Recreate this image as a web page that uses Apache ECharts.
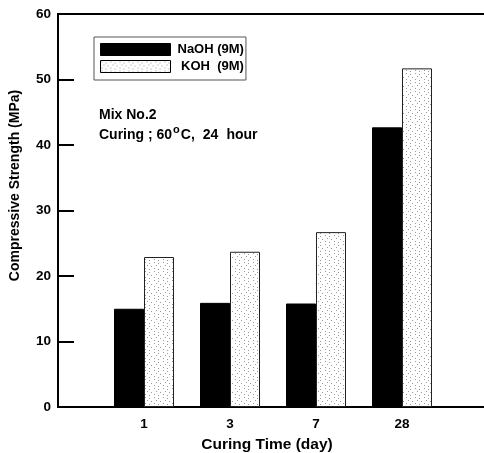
<!DOCTYPE html>
<html>
<head>
<meta charset="utf-8">
<script src="https://cdn.jsdelivr.net/npm/echarts@6/dist/echarts.min.js"></script>
<style>html,body{margin:0;padding:0;background:#fff}#c{width:484px;height:453px}</style>
</head>
<body>
<div id="c"></div>
<script>
var categories = ['1', '3', '7', '28'];
var naohValues = [15.0, 15.9, 15.8, 42.7];
var kohValues = [22.9, 23.7, 26.7, 51.7];
var seriesNames = ['NaOH (9M)', ' KOH  (9M)'];
var yTicks = [0, 10, 20, 30, 40, 50, 60];

// dotted texture for KOH bars
var pc = document.createElement('canvas');
pc.width = 9; pc.height = 9;
var pctx = pc.getContext('2d');
pctx.fillStyle = '#ffffff';
pctx.fillRect(0, 0, 9, 9);
pctx.fillStyle = '#9a9a9a';
[[1,1],[5,2],[3,4],[7,5],[1,7],[5,8]].forEach(function(p){ pctx.fillRect(p[0], p[1], 1, 1); });

var font = 'Liberation Sans, Arial, sans-serif';
var axisData = [''].concat(categories).concat(['']);
function pad(a){ return [null].concat(a).concat([null]); }

var chart = echarts.init(document.getElementById('c'), null, {renderer: 'canvas'});
chart.setOption({
  animation: false,
  backgroundColor: '#ffffff',
  grid: {left: 58, width: 430, top: 14, height: 393, containLabel: false, outerBoundsMode: 'none',
         show: true, borderColor: '#000', borderWidth: 2, backgroundColor: 'transparent'},
  legend: {
    orient: 'vertical', left: 94, top: 37,
    itemWidth: 70, itemHeight: 12, itemGap: 4,
    icon: 'rect',
    borderColor: '#555', borderWidth: 1, padding: [6, 2, 7, 6],
    data: seriesNames,
    textStyle: {fontFamily: font, fontWeight: 'bold', fontSize: 13, color: '#000', padding: [0, 0, 0, 2]},
    itemStyle: {borderColor: '#000', borderWidth: 1}
  },
  xAxis: {
    type: 'category', data: axisData, boundaryGap: false,
    axisLine: {lineStyle: {color: '#000', width: 2}},
    axisTick: {show: false},
    axisLabel: {fontFamily: font, fontWeight: 'bold', fontSize: 13.5, color: '#000', margin: 10, interval: 0},
    name: 'Curing Time (day)', nameLocation: 'middle', nameGap: 30,
    nameTextStyle: {fontFamily: font, fontWeight: 'bold', fontSize: 15.5, color: '#000', padding: [0, 12, 0, 0]}
  },
  yAxis: {
    type: 'value', min: 0, max: 60, interval: 10,
    axisLine: {show: true, lineStyle: {color: '#000', width: 2}},
    axisTick: {show: true, inside: true, length: 16, lineStyle: {color: '#000', width: 2}},
    splitLine: {show: false},
    axisLabel: {fontFamily: font, fontWeight: 'bold', fontSize: 13.5, color: '#000', margin: 7,
      formatter: function(v){ return yTicks.indexOf(v) >= 0 ? String(v) : ''; }},
    name: 'Compressive Strength (MPa)', nameLocation: 'middle', nameGap: 36,
    nameTextStyle: {fontFamily: font, fontWeight: 'bold', fontSize: 14, color: '#000', padding: [0, 0, 0, 50]}
  },
  series: [
    {name: seriesNames[0], type: 'bar', data: pad(naohValues), barWidth: 30, barGap: '0%',
     itemStyle: {color: '#000', borderColor: '#000', borderWidth: 1}},
    {name: seriesNames[1], type: 'bar', data: pad(kohValues), barWidth: 30, barGap: '0%',
     itemStyle: {color: {image: pc, repeat: 'repeat'}, borderColor: '#222', borderWidth: 1}}
  ],
  graphic: [
    {type: 'text', left: 99, top: 108, style: {text: 'Mix No.2', fontFamily: font, fontWeight: 'bold', fontSize: 14, fill: '#000'}},
    {type: 'text', left: 99, top: 124, style: {
      text: '{a|Curing ; 60}{s|o}{a|C,}{g| }{a|24}{g| }{a|hour}',
      fontFamily: font, fontWeight: 'bold', fontSize: 14, fill: '#000',
      rich: {
        a: {fontFamily: font, fontWeight: 'bold', fontSize: 14, fill: '#000', verticalAlign: 'bottom', lineHeight: 18},
        g: {fontFamily: font, fontWeight: 'bold', fontSize: 14, width: 8, lineHeight: 18},
        s: {fontFamily: font, fontWeight: 'bold', fontSize: 11, fill: '#000', verticalAlign: 'top', lineHeight: 18, padding: [0, 1, 6, 1]}
      }
    }}
  ]
});
</script>
</body>
</html>
